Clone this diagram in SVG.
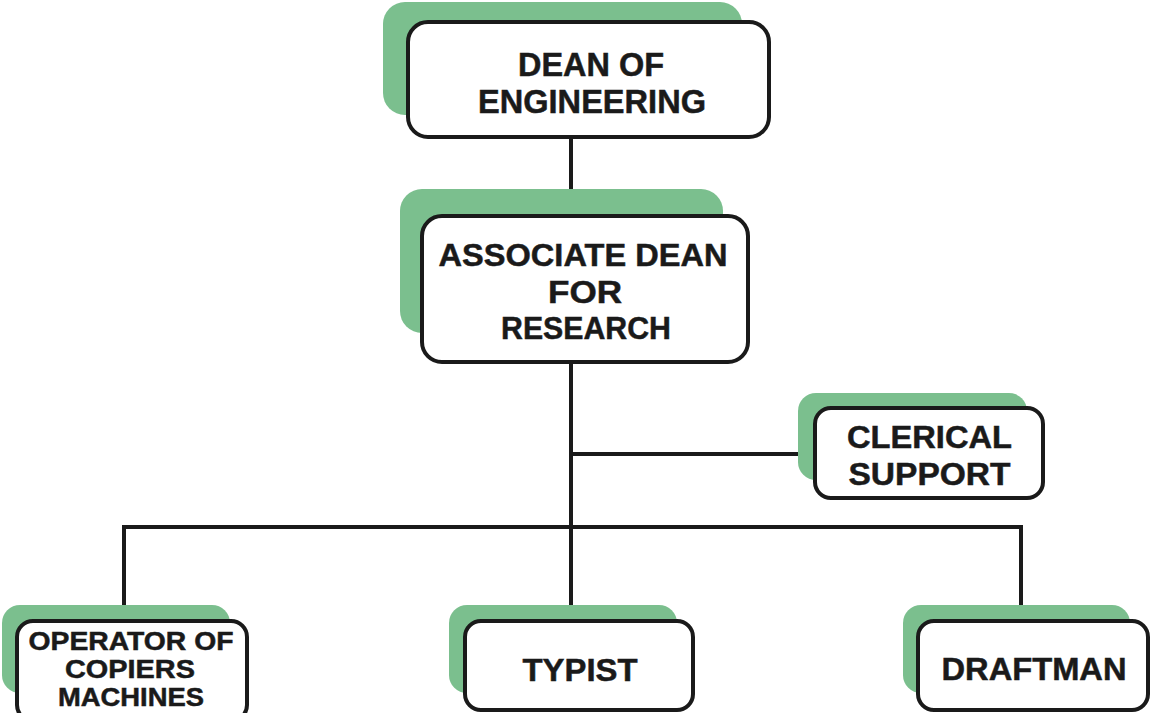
<svg xmlns="http://www.w3.org/2000/svg" width="1153" height="713" viewBox="0 0 1153 713">
<style>
.sh{fill:#7bbf8e;}
.bx{fill:#fff;stroke:#1a1a1a;stroke-width:4;}
.t{font-family:"Liberation Sans",Arial,sans-serif;font-weight:bold;fill:#1a1a1a;stroke:#1a1a1a;stroke-width:0.5;text-anchor:middle;}
.c{stroke:#1a1a1a;stroke-width:4;fill:none;}
</style>
<rect width="1153" height="713" fill="#fff"/>
<g id="connectors">
<line class="c" x1="571" y1="137" x2="571" y2="216"/>
<line class="c" x1="571" y1="362" x2="571" y2="621"/>
<line class="c" x1="571" y1="454" x2="816" y2="454"/>
<polyline class="c" points="124,621 124,527 1021,527 1021,621"/>
</g>
<g id="dean">
<rect class="sh" x="383" y="2" width="359" height="113" rx="22"/>
<rect class="bx" x="408" y="22" width="361" height="115" rx="20"/>
<text class="t" x="591" y="76" font-size="33" textLength="146" lengthAdjust="spacingAndGlyphs">DEAN OF</text>
<text class="t" x="592" y="113" font-size="33" textLength="228" lengthAdjust="spacingAndGlyphs">ENGINEERING</text>
</g>
<g id="assoc">
<rect class="sh" x="400" y="189" width="323" height="144" rx="22"/>
<rect class="bx" x="422" y="216" width="326" height="146" rx="20"/>
<text class="t" x="583" y="266" font-size="32" textLength="289" lengthAdjust="spacingAndGlyphs">ASSOCIATE DEAN</text>
<text class="t" x="585" y="303" font-size="32" textLength="74" lengthAdjust="spacingAndGlyphs">FOR</text>
<text class="t" x="586" y="339" font-size="32" textLength="170" lengthAdjust="spacingAndGlyphs">RESEARCH</text>
</g>
<g id="clerical">
<rect class="sh" x="798" y="393" width="229" height="87" rx="18"/>
<rect class="bx" x="815" y="408" width="228" height="90" rx="16"/>
<text class="t" x="929.5" y="448" font-size="31" textLength="165" lengthAdjust="spacingAndGlyphs">CLERICAL</text>
<text class="t" x="929.5" y="485" font-size="31" textLength="162" lengthAdjust="spacingAndGlyphs">SUPPORT</text>
</g>
<g id="operator">
<rect class="sh" x="2" y="605" width="228" height="88" rx="18"/>
<rect class="bx" x="17" y="621" width="230" height="100" rx="16"/>
<text class="t" x="131" y="650" font-size="26" textLength="205" lengthAdjust="spacingAndGlyphs">OPERATOR OF</text>
<text class="t" x="130" y="678" font-size="26" textLength="130" lengthAdjust="spacingAndGlyphs">COPIERS</text>
<text class="t" x="131" y="706" font-size="26" textLength="146" lengthAdjust="spacingAndGlyphs">MACHINES</text>
</g>
<g id="typist">
<rect class="sh" x="449" y="605" width="228" height="88" rx="18"/>
<rect class="bx" x="465" y="621" width="228" height="89" rx="16"/>
<text class="t" x="580" y="681" font-size="32" textLength="115" lengthAdjust="spacingAndGlyphs">TYPIST</text>
</g>
<g id="draftman">
<rect class="sh" x="903" y="605" width="227" height="88" rx="18"/>
<rect class="bx" x="918" y="621" width="230" height="89" rx="16"/>
<text class="t" x="1034" y="680" font-size="32" textLength="185" lengthAdjust="spacingAndGlyphs">DRAFTMAN</text>
</g>
</svg>
